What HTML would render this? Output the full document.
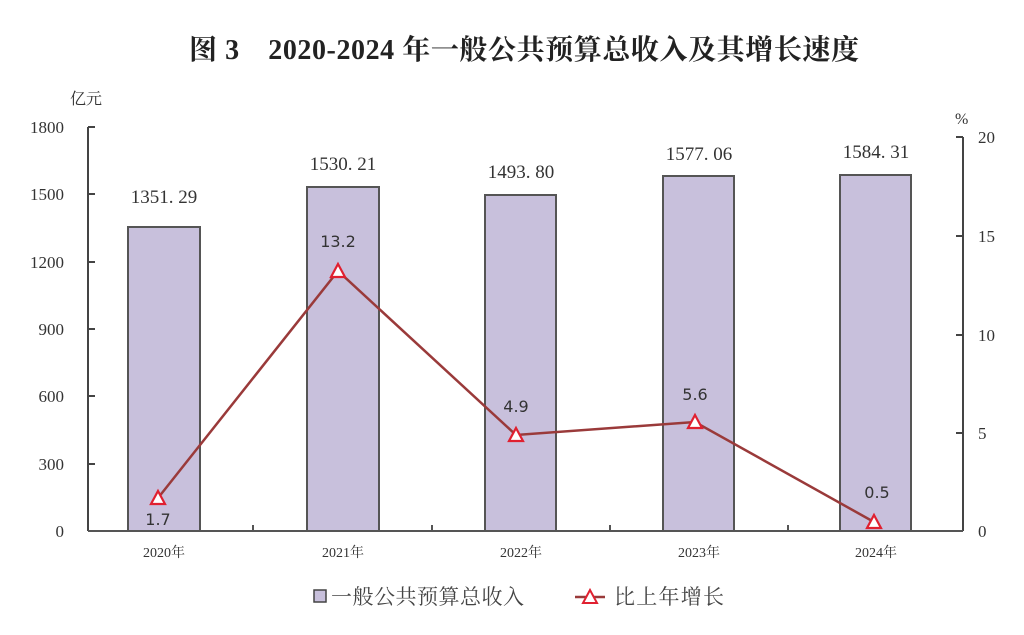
<!DOCTYPE html>
<html><head><meta charset="utf-8"><style>
body{margin:0;background:#fff;}
svg{display:block;}
</style></head><body>
<svg width="1024" height="635" viewBox="0 0 1024 635" xmlns="http://www.w3.org/2000/svg">
<rect width="1024" height="635" fill="#fff"/>
<text x="524" y="59" text-anchor="middle" font-family="'Liberation Serif','Noto Serif CJK SC',serif" font-weight="bold" font-size="28" fill="#222" textLength="670">图 3　2020-2024 年一般公共预算总收入及其增长速度</text>
<g font-family="'Liberation Serif','Noto Serif CJK SC',serif" font-size="16" fill="#333">
<text x="70" y="104">亿元</text>
<text x="955" y="124">%</text>
<g text-anchor="end" font-size="17">
<text x="64" y="133">1800</text><text x="64" y="200">1500</text><text x="64" y="268">1200</text>
<text x="64" y="335">900</text><text x="64" y="402">600</text><text x="64" y="470">300</text><text x="64" y="537">0</text>
</g>
<g font-size="17">
<text x="978" y="143">20</text><text x="978" y="242">15</text><text x="978" y="341">10</text>
<text x="978" y="439">5</text><text x="978" y="537">0</text>
</g>
</g>
<g stroke="#444" stroke-width="2" fill="none">
<line x1="88" y1="127" x2="88" y2="531"/>
<line x1="88" y1="127" x2="95" y2="127"/><line x1="88" y1="194" x2="95" y2="194"/><line x1="88" y1="262" x2="95" y2="262"/>
<line x1="88" y1="329" x2="95" y2="329"/><line x1="88" y1="396" x2="95" y2="396"/><line x1="88" y1="464" x2="95" y2="464"/>
<line x1="963" y1="137" x2="963" y2="531"/>
<line x1="956" y1="137" x2="963" y2="137"/><line x1="956" y1="236" x2="963" y2="236"/><line x1="956" y1="335" x2="963" y2="335"/><line x1="956" y1="433" x2="963" y2="433"/>
</g>
<g fill="#c8c0dc" stroke="#555" stroke-width="2">
<rect x="128" y="227" width="72" height="304"/>
<rect x="307" y="187" width="72" height="344"/>
<rect x="485" y="195" width="71" height="336"/>
<rect x="663" y="176" width="71" height="355"/>
<rect x="840" y="175" width="71" height="356"/>
</g>
<line x1="88" y1="531" x2="963" y2="531" stroke="#555" stroke-width="2"/>
<g stroke="#555" stroke-width="2"><line x1="253" y1="531" x2="253" y2="525"/><line x1="432" y1="531" x2="432" y2="525"/><line x1="610" y1="531" x2="610" y2="525"/><line x1="788" y1="531" x2="788" y2="525"/></g>
<g font-family="'Liberation Serif','Noto Serif CJK SC',serif" font-size="19" fill="#333" text-anchor="middle">
<text x="164" y="203">1351. 29</text><text x="343" y="170">1530. 21</text><text x="521" y="178">1493. 80</text>
<text x="699" y="160">1577. 06</text><text x="876" y="158">1584. 31</text>
</g>
<g font-family="'Liberation Serif','Noto Serif CJK SC',serif" font-size="14" fill="#333" text-anchor="middle">
<text x="164" y="557">2020年</text><text x="343" y="557">2021年</text><text x="521" y="557">2022年</text><text x="699" y="557">2023年</text><text x="876" y="557">2024年</text>
</g>
<polyline points="158,498 338,271 516,435 695,422 874,522" fill="none" stroke="#9a3a3a" stroke-width="2.5"/>
<g fill="#fff" stroke="#e02030" stroke-width="2.2">
<polygon points="158,491 165,504 151,504"/><polygon points="338,264 345,277 331,277"/>
<polygon points="516,428 523,441 509,441"/><polygon points="695,415 702,428 688,428"/><polygon points="874,515 881,528 867,528"/>
</g>
<g font-family="'DejaVu Sans','Liberation Sans',sans-serif" font-size="16" fill="#333" text-anchor="middle">
<text x="158" y="525">1.7</text><text x="338" y="247">13.2</text><text x="516" y="412">4.9</text><text x="695" y="400">5.6</text><text x="877" y="498">0.5</text>
</g>
<rect x="314" y="590" width="12" height="12" fill="#c8c0dc" stroke="#444" stroke-width="1.5"/>
<text x="331" y="604" font-family="'Liberation Serif','Noto Serif CJK SC',serif" font-size="21" fill="#444" textLength="193">一般公共预算总收入</text>
<line x1="575" y1="597" x2="605" y2="597" stroke="#9a3a3a" stroke-width="2.5"/>
<polygon points="590,590 597,603 583,603" fill="#fff" stroke="#e02030" stroke-width="2"/>
<text x="614" y="604" font-family="'Liberation Serif','Noto Serif CJK SC',serif" font-size="21" fill="#444" textLength="110">比上年增长</text>
</svg>
</body></html>
